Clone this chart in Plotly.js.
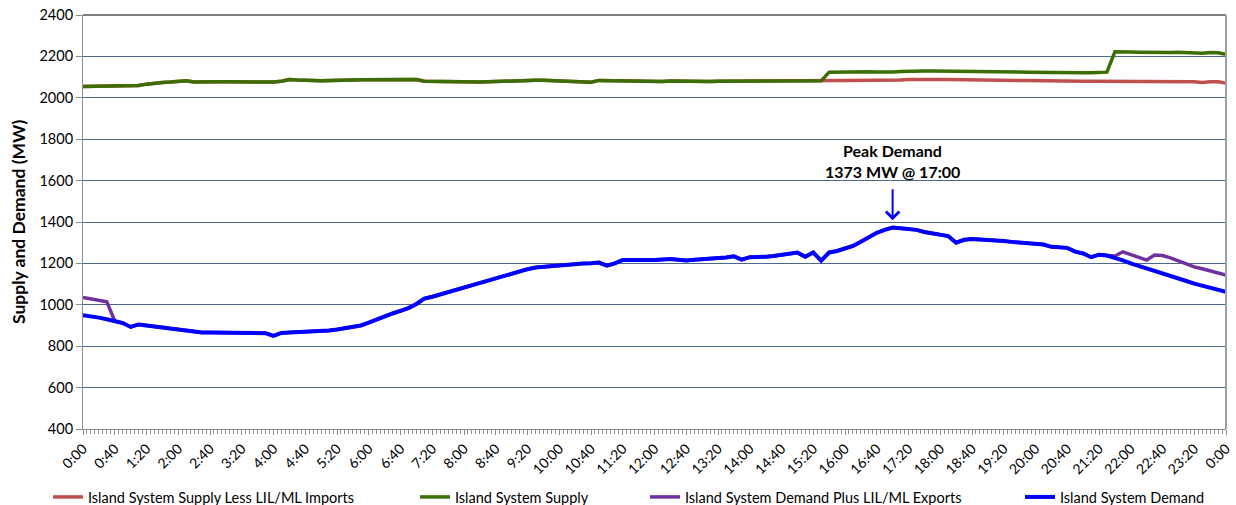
<!DOCTYPE html>
<html>
<head>
<meta charset="utf-8">
<script src="https://cdn.plot.ly/plotly-3.0.1.min.js"></script>
<style>
  html, body { margin: 0; padding: 0; background: #ffffff; }
  #chart { width: 1236px; height: 505px; }
</style>
</head>
<body>
<div id="chart"></div>
<script>
// Time of day, minutes from midnight, one reading every 10 minutes (0:00 .. 24:00)
const stepMinutes = 10;

// Island System Supply Less LIL/ML Imports (MW)
const supplyLessImports = [
  2055,2056,2055,2054,2055,2058,2057,2059,2066,2072,2074,2076,
  2077,2082,2076,2075,2076,2077,2077,2077,2076,2076,2075,2075,
  2076,2080,2088,2086,2083,2084,2082,2084,2085,2086,2086,2087,
  2087,2087,2087,2087,2088,2091,2088,2080,2079,2079,2078,2078,
  2077,2077,2076,2077,2079,2081,2083,2084,2085,2085,2085,2084,
  2083,2082,2081,2080,2075,2084,2083,2085,2083,2081,2080,2080,
  2079,2079,2081,2080,2080,2080,2079,2079,2080,2080,2081,2081,
  2082,2082,2082,2082,2082,2082,2081,2079,2081,2082,2083,2083,
  2084,2084,2084,2084,2083,2083,2084,2086,2088,2089,2089,2088,
  2088,2088,2087,2087,2086,2086,2085,2085,2084,2084,2083,2083,
  2082,2081,2080,2080,2080,2080,2080,2080,2080,2080,2080,2080,
  2079,2079,2078,2078,2079,2079,2079,2078,2078,2074,2078,2077,
  2072
];

// Island System Supply (MW)
const supply = [
  2055,2056,2055,2054,2055,2058,2057,2059,2066,2072,2074,2076,
  2077,2082,2076,2075,2076,2077,2077,2077,2076,2076,2075,2075,
  2076,2080,2088,2086,2083,2084,2082,2084,2085,2086,2086,2087,
  2087,2087,2087,2087,2088,2091,2088,2080,2079,2079,2078,2078,
  2077,2077,2076,2077,2079,2081,2083,2084,2085,2085,2085,2084,
  2083,2082,2081,2080,2075,2084,2083,2085,2083,2081,2080,2080,
  2079,2079,2081,2080,2080,2080,2079,2079,2080,2080,2081,2081,
  2082,2082,2082,2082,2082,2082,2081,2079,2081,2082,2124,2125,
  2125,2126,2126,2126,2125,2124,2125,2127,2129,2131,2130,2129,
  2129,2129,2128,2128,2128,2128,2127,2127,2126,2126,2125,2124,
  2123,2123,2122,2121,2121,2121,2121,2121,2122,2124,2222,2223,
  2221,2220,2219,2218,2219,2219,2220,2219,2220,2215,2219,2218,
  2210
];

// Island System Demand Plus LIL/ML Exports (MW)
const demandPlusExports = [
  1035,1027,1020,1015,922,912,893,905,900,894,889,885,
  881,875,869,866,866,866,865,865,864,864,863,863,
  850,864,866,868,869,870,872,876,881,887,892,900,
  914,930,944,958,971,984,1004,1030,1039,1050,1062,1075,
  1086,1096,1107,1118,1130,1142,1153,1163,1172,1180,1184,1186,
  1190,1194,1198,1200,1201,1204,1189,1200,1217,1218,1218,1217,
  1216,1218,1221,1218,1214,1218,1220,1224,1227,1229,1234,1218,
  1230,1230,1232,1236,1240,1245,1252,1232,1253,1213,1253,1260,
  1272,1284,1305,1328,1348,1362,1373,1370,1366,1362,1352,1345,
  1338,1332,1300,1314,1318,1316,1316,1313,1308,1304,1300,1298,
  1295,1291,1280,1276,1275,1257,1248,1230,1242,1238,1236,1256,
  1243,1230,1216,1240,1238,1227,1213,1198,1183,1174,1164,1155,
  1144
];

// Island System Demand (MW)
const demand = [
  950,945,938,930,922,912,893,905,900,894,889,885,
  881,875,869,866,866,866,865,865,864,864,863,863,
  850,864,866,868,869,870,872,876,881,887,892,900,
  914,930,944,958,971,984,1004,1030,1039,1050,1062,1075,
  1086,1096,1107,1118,1130,1142,1153,1163,1172,1180,1184,1186,
  1190,1194,1198,1200,1201,1204,1189,1200,1217,1218,1218,1217,
  1216,1218,1221,1218,1214,1218,1220,1224,1227,1229,1234,1218,
  1230,1230,1232,1236,1240,1245,1252,1232,1253,1213,1253,1260,
  1272,1284,1305,1328,1348,1362,1373,1370,1366,1362,1352,1345,
  1338,1332,1300,1314,1318,1316,1316,1313,1308,1304,1300,1298,
  1295,1291,1280,1276,1275,1257,1248,1230,1242,1238,1228,1215,
  1200,1188,1176,1165,1154,1143,1130,1115,1102,1093,1084,1074,
  1063
];

// x-axis tick labels, every 40 minutes
const tickLabels = [
  "0:00","0:40","1:20","2:00","2:40","3:20","4:00","4:40","5:20","6:00",
  "6:40","7:20","8:00","8:40","9:20","10:00","10:40","11:20","12:00","12:40",
  "13:20","14:00","14:40","15:20","16:00","16:40","17:20","18:00","18:40","19:20",
  "20:00","20:40","21:20","22:00","22:40","23:20","0:00"
];
const tickStepMinutes = 40;

const peakText = ["Peak Demand", "1373 MW @ 17:00"];
const peakMinute = 1020;
const peakValue = 1373;

const seriesNames = [
  "Island System Supply Less LIL/ML Imports",
  "Island System Supply",
  "Island System Demand Plus LIL/ML Exports",
  "Island System Demand"
];

const minutes = demand.map((_, i) => i * stepMinutes);
const tickVals = tickLabels.map((_, i) => i * tickStepMinutes);

const FONT = "Lato, 'Open Sans', sans-serif";
const L = 83, R = 10, T = 15, B = 76, W = 1236, H = 505;
const plotW = W - L - R, plotH = H - T - B;
const px2paperX = p => (p - L) / plotW;
const px2paperY = p => (H - B - p) / plotH;

function lineTrace(y, name, color, width, legendId) {
  return {
    x: minutes, y: y, name: name, type: 'scatter', mode: 'lines',
    line: { color: color, width: width, shape: 'linear' },
    legend: legendId, hoverinfo: 'x+y'
  };
}

const traces = [
  lineTrace(supplyLessImports, seriesNames[0], '#c0504d', 3.5, 'legend'),
  lineTrace(supply, seriesNames[1], '#3b6e04', 3.5, 'legend2'),
  lineTrace(demandPlusExports, seriesNames[2], '#7030a0', 3.5, 'legend3'),
  lineTrace(demand, seriesNames[3], '#0000ff', 4, 'legend4'),
  { x: [], y: [], xaxis: 'x2', type: 'scatter', mode: 'lines', showlegend: false, hoverinfo: 'skip' }
];

function legendAt(pxLeft) {
  return {
    x: px2paperX(pxLeft), xanchor: 'left', xref: 'paper',
    y: px2paperY(497), yanchor: 'middle', yref: 'paper',
    orientation: 'h', bgcolor: 'rgba(0,0,0,0)', borderwidth: 0,
    font: { family: FONT, size: 14.5, color: '#000' },
    itemwidth: 30, tracegroupgap: 0
  };
}

const layout = {
  width: W, height: H,
  margin: { l: L, r: R, t: T, b: B, autoexpand: false },
  paper_bgcolor: '#ffffff', plot_bgcolor: '#ffffff',
  font: { family: FONT, size: 14, color: '#000' },
  showlegend: true,
  legend: legendAt(48),
  legend2: legendAt(415),
  legend3: legendAt(645),
  legend4: legendAt(1020),
  xaxis: {
    range: [0, 1440], type: 'linear',
    tickmode: 'array', tickvals: tickVals, ticktext: tickLabels,
    tickangle: -45, ticks: 'outside', ticklen: 5, tickcolor: '#8c8c8c', tickwidth: 1,
    tickfont: { family: FONT, size: 14, color: '#000' },
    showgrid: false, zeroline: false,
    showline: true, linecolor: '#8c8c8c', linewidth: 1,
    fixedrange: true
  },
  xaxis2: {
    overlaying: 'x', anchor: 'y', side: 'bottom',
    range: [0, 1440], type: 'linear',
    tickmode: 'linear', tick0: 0, dtick: 5,
    ticks: 'outside', ticklen: 4, tickcolor: '#8c8c8c', tickwidth: 1,
    showticklabels: false, showgrid: false, zeroline: false, showline: false
  },
  yaxis: {
    range: [400, 2400], tickmode: 'linear', tick0: 400, dtick: 200,
    ticks: 'outside', ticklen: 6, tickcolor: '#8c8c8c',
    tickfont: { family: FONT, size: 14.5, color: '#000' },
    showgrid: true, gridcolor: '#4a6890', gridwidth: 1,
    zeroline: false, showline: true, linecolor: '#8c8c8c', linewidth: 1,
    fixedrange: true
  },
  shapes: [
    { type: 'line', xref: 'paper', yref: 'paper', x0: 0, x1: 1, y0: 1, y1: 1,
      line: { color: '#000000', width: 1 } },
    { type: 'line', xref: 'paper', yref: 'paper', x0: 1, x1: 1, y0: 0, y1: 1,
      line: { color: '#a0a0a0', width: 2 } }
  ],
  annotations: [
    { xref: 'paper', yref: 'paper', x: px2paperX(18), y: 0.5,
      text: '<b>Supply and Demand (MW)</b>', textangle: -90, showarrow: false,
      font: { family: FONT, size: 17.5, color: '#000' }, xanchor: 'center', yanchor: 'middle' },
    { xref: 'x', yref: 'y', x: peakMinute, y: 1744, text: '<b>' + peakText[0] + '</b>',
      showarrow: false, font: { family: FONT, size: 16, color: '#000' },
      xanchor: 'center', yanchor: 'middle' },
    { xref: 'x', yref: 'y', x: peakMinute, y: 1646, text: '<b>' + peakText[1] + '</b>',
      showarrow: false, font: { family: FONT, size: 16, color: '#000' },
      xanchor: 'center', yanchor: 'middle' },
    { xref: 'x', yref: 'y', x: peakMinute, y: peakValue + 35, text: '',
      showarrow: true, axref: 'x', ayref: 'y', ax: peakMinute, ay: 1565,
      arrowhead: 4, arrowsize: 1.3, arrowwidth: 2, arrowcolor: '#0000ff', standoff: 0 }
  ]
};

Plotly.newPlot('chart', traces, layout, { displayModeBar: false, staticPlot: true });
</script>
</body>
</html>
